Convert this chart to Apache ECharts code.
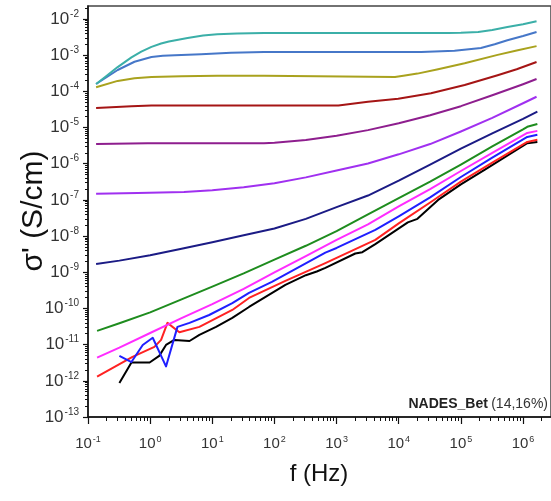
<!DOCTYPE html>
<html>
<head>
<meta charset="utf-8">
<script src="https://cdn.jsdelivr.net/npm/echarts@6/dist/echarts.min.js"></script>
<style>
  html, body { margin: 0; padding: 0; background: #ffffff; }
  #chart { width: 551px; height: 501px; }
</style>
</head>
<body>
<div id="chart"></div>
<script>
// Decade exponents used for the labelled ticks
const freqExponents = [-1, 0, 1, 2, 3, 4, 5, 6];
const condExponents = [-13, -12, -11, -10, -9, -8, -7, -6, -5, -4, -3, -2];

// Real conductivity spectra, pairs of [f (Hz), sigma' (S/cm)]
const curveTeal = [[0.135, 1.6e-4], [0.20, 2.7e-4], [0.30, 4.7e-4], [0.50, 8.7e-4], [0.72, 1.25e-3], [1.05, 1.7e-3], [1.5, 2.1e-3], [2.0, 2.4e-3], [4.0, 3.0e-3], [7.1, 3.5e-3], [12, 3.8e-3], [25, 4.0e-3], [68, 4.1e-3], [9.8e3, 4.1e-3], [6.2e4, 4.1e-3], [1.0e5, 4.15e-3], [1.9e5, 4.4e-3], [3.2e5, 5.0e-3], [5.6e5, 6.0e-3], [1.0e6, 7.2e-3], [1.65e6, 8.7e-3]];
const curveSteel = [[0.135, 1.6e-4], [0.30, 3.9e-4], [0.56, 6.6e-4], [1.05, 8.9e-4], [1.6, 9.6e-4], [2.5, 1.0e-3], [6.6, 1.07e-3], [20, 1.17e-3], [68, 1.23e-3], [2.3e4, 1.23e-3], [7.9e4, 1.32e-3], [2.1e5, 1.58e-3], [3.5e5, 2.0e-3], [5.6e5, 2.6e-3], [1.0e6, 3.4e-3], [1.65e6, 4.4e-3]];
const curveOlive = [[0.135, 1.3e-4], [0.30, 1.95e-4], [0.56, 2.3e-4], [1.05, 2.5e-4], [3.2, 2.6e-4], [12, 2.7e-4], [68, 2.7e-4], [8.7e3, 2.5e-4], [1.26e4, 2.75e-4], [2.0e4, 3.1e-4], [4.3e4, 4.1e-4], [1.15e5, 6.0e-4], [3.9e5, 1.02e-3], [7.9e5, 1.35e-3], [1.65e6, 1.78e-3]];
const curveDarkRed = [[0.135, 3.5e-5], [0.5, 3.9e-5], [1.05, 4.1e-5], [68, 4.1e-5], [1.07e3, 4.1e-5], [3.2e3, 5.2e-5], [9.8e3, 6.3e-5], [3.3e4, 8.9e-5], [1.15e5, 1.5e-4], [3.9e5, 2.8e-4], [7.9e5, 4.1e-4], [1.65e6, 6.5e-4]];
const curvePlum = [[0.135, 3.5e-6], [0.91, 3.7e-6], [68, 3.7e-6], [100, 3.8e-6], [320, 4.5e-6], [1.0e3, 5.9e-6], [3.2e3, 8.5e-6], [1.0e4, 1.32e-5], [3.2e4, 2.2e-5], [1.0e5, 3.9e-5], [3.2e5, 7.8e-5], [1.0e6, 1.58e-4], [1.65e6, 2.2e-4]];
const curveViolet = [[0.135, 1.48e-7], [0.63, 1.55e-7], [3.5, 1.66e-7], [10, 1.86e-7], [32, 2.24e-7], [100, 2.9e-7], [320, 4.2e-7], [1.0e3, 6.5e-7], [3.2e3, 1.02e-6], [1.0e4, 1.82e-6], [3.2e4, 3.5e-6], [1.0e5, 7.8e-6], [3.2e5, 1.86e-5], [1.0e6, 4.7e-5], [1.65e6, 7.1e-5]];
const curveNavy = [[0.135, 1.7e-9], [0.32, 2.1e-9], [1.0, 2.95e-9], [3.2, 4.5e-9], [10, 6.8e-9], [32, 1.05e-8], [100, 1.62e-8], [320, 3.0e-8], [1.0e3, 6.3e-8], [3.2e3, 1.32e-7], [1.0e4, 3.4e-7], [3.2e4, 9.5e-7], [1.0e5, 2.6e-6], [3.2e5, 6.9e-6], [1.0e6, 1.74e-5], [1.7e6, 2.75e-5]];
const curveGreen = [[0.14, 2.4e-11], [0.32, 3.9e-11], [1.0, 7.8e-11], [3.2, 1.78e-10], [10, 4.0e-10], [32, 9.3e-10], [100, 2.24e-9], [320, 5.4e-9], [1.0e3, 1.38e-8], [3.2e3, 4.0e-8], [1.0e4, 1.12e-7], [3.2e4, 3.2e-7], [1.0e5, 9.5e-7], [3.2e5, 3.0e-6], [1.0e6, 8.9e-6], [1.17e6, 1.05e-5], [1.7e6, 1.26e-5]];
const curveMagenta = [[0.14, 4.4e-12], [0.32, 8.3e-12], [1.0, 2.1e-11], [3.2, 5.4e-11], [10, 1.32e-10], [32, 3.5e-10], [100, 1.0e-9], [320, 2.8e-9], [1.0e3, 7.9e-9], [3.2e3, 2.1e-8], [1.0e4, 6.6e-8], [3.2e4, 2.0e-7], [1.0e5, 6.3e-7], [3.2e5, 2.0e-6], [1.17e6, 7.1e-6], [1.7e6, 8.1e-6]];
const curveRed = [[0.14, 1.3e-12], [0.52, 4.6e-12], [1.17, 8.7e-12], [1.5, 1.35e-11], [1.9, 4.0e-11], [2.95, 2.2e-11], [6.2, 3.1e-11], [21, 9.1e-11], [39, 1.95e-10], [150, 5.8e-10], [660, 1.8e-9], [1.0e3, 2.5e-9], [4.2e3, 7.9e-9], [1.0e4, 2.24e-8], [3.2e4, 8.5e-8], [1.0e5, 3.2e-7], [3.2e5, 1.07e-6], [1.17e6, 4.0e-6], [1.7e6, 4.6e-6]];
const curveBlue = [[0.32, 4.9e-12], [0.50, 3.3e-12], [0.76, 9.8e-12], [1.1, 1.55e-11], [1.8, 2.5e-12], [2.75, 3.1e-11], [4.3, 4.0e-11], [8.9, 6.6e-11], [21, 1.4e-10], [39, 2.7e-10], [91, 5.4e-10], [660, 3.5e-9], [1.0e3, 4.7e-9], [4.2e3, 1.48e-8], [1.0e4, 3.5e-8], [3.2e4, 1.17e-7], [1.0e5, 4.3e-7], [3.2e5, 1.48e-6], [1.17e6, 5.5e-6], [1.7e6, 6.3e-6]];
const curveBlack = [[0.32, 8.7e-13], [0.50, 3.2e-12], [0.98, 3.2e-12], [1.4, 4.9e-12], [1.8, 9.8e-12], [2.45, 1.35e-11], [4.3, 1.26e-11], [6.2, 1.86e-11], [11.5, 3.1e-11], [21, 5.5e-11], [39, 1.1e-10], [150, 4.5e-10], [320, 8.3e-10], [480, 1.05e-9], [660, 1.32e-9], [2.0e3, 3.3e-9], [2.6e3, 3.6e-9], [4.2e3, 6.0e-9], [1.4e4, 2.4e-8], [2.0e4, 3.0e-8], [4.3e4, 1.0e-7], [1.0e5, 2.7e-7], [2.4e5, 6.8e-7], [1.17e6, 3.7e-6], [1.7e6, 4.0e-6]];

const X_MIN = Number('1e-1');
const X_MAX = Math.pow(10, 6.45);
const Y_MIN = Number('1e-13');
const Y_MAX = Math.pow(10, -1.64);

const decade = e => Number('1e' + e);
const xMajor = freqExponents.map(decade);
const yMajor = condExponents.map(decade);
// minor ticks at 2..9 x 10^n
function minorTicks(lo, hi, vmin, vmax) {
  const out = [];
  for (let e = lo; e <= hi; e++) {
    for (let k = 2; k <= 9; k++) {
      const v = Number(k + 'e' + e);
      if (v > vmin && v < vmax) out.push(v);
    }
  }
  return out;
}
const xMinor = minorTicks(-1, 6, X_MIN, X_MAX);
const yMinor = minorTicks(-13, -2, Y_MIN, Y_MAX);

const powLabel = v => '{b|10}{s|' + Math.round(Math.log10(v)) + '}';
const FONT = '"Liberation Sans", Arial, sans-serif';

const chart = echarts.init(document.getElementById('chart'), null, { renderer: 'canvas' });

function lineSeries(data, color) {
  return {
    type: 'line',
    data: data,
    showSymbol: false,
    symbol: 'none',
    smooth: false,
    lineStyle: { color: color, width: 2, join: 'round' },
    itemStyle: { color: color },
    silent: true,
    animation: false
  };
}

chart.setOption({
  animation: false,
  backgroundColor: '#ffffff',
  grid: {
    left: 88, top: 6, right: -3, bottom: 84,
    show: true, borderColor: '#444444', borderWidth: 1.5, backgroundColor: 'transparent'
  },
  xAxis: [
    {
      type: 'log', logBase: 10, min: X_MIN, max: X_MAX, position: 'bottom',
      axisLine: { show: true, onZero: false, lineStyle: { color: '#111', width: 1.5 } },
      axisTick: { show: true, inside: false, length: 7, customValues: xMajor, lineStyle: { color: '#111', width: 1.2 } },
      minorTick: { show: false },
      splitLine: { show: false },
      axisLabel: {
        customValues: xMajor, margin: 18, formatter: powLabel, color: '#333',
        rich: {
          b: { fontSize: 15, fontFamily: FONT, color: '#333' },
          s: { fontSize: 9, fontFamily: FONT, color: '#333', verticalAlign: 'top', padding: [0, 0, 9, 1] }
        }
      }
    },
    {
      type: 'log', logBase: 10, min: X_MIN, max: X_MAX, position: 'bottom',
      axisLine: { show: false },
      axisTick: { show: true, inside: false, length: 4, customValues: xMinor, lineStyle: { color: '#111', width: 1 } },
      axisLabel: { show: false },
      splitLine: { show: false }
    }
  ],
  yAxis: [
    {
      type: 'log', logBase: 10, min: Y_MIN, max: Y_MAX, position: 'left',
      axisLine: { show: true, onZero: false, lineStyle: { color: '#111', width: 1.5 } },
      axisTick: { show: true, inside: false, length: 5, customValues: yMajor, lineStyle: { color: '#111', width: 1.2 } },
      minorTick: { show: false },
      splitLine: { show: false },
      axisLabel: {
        customValues: yMajor, margin: 9, formatter: powLabel, color: '#333',
        rich: {
          b: { fontSize: 17, fontFamily: FONT, color: '#333' },
          s: { fontSize: 10, fontFamily: FONT, color: '#333', verticalAlign: 'top', padding: [0, 0, 10, 1] }
        }
      }
    },
    {
      type: 'log', logBase: 10, min: Y_MIN, max: Y_MAX, position: 'left',
      axisLine: { show: false },
      axisTick: { show: true, inside: false, length: 3, customValues: yMinor, lineStyle: { color: '#111', width: 1 } },
      axisLabel: { show: false },
      splitLine: { show: false }
    }
  ],
  series: [
    lineSeries(curveBlack, '#000000'),
    lineSeries(curveRed, '#ff2222'),
    lineSeries(curveBlue, '#1f1fff'),
    lineSeries(curveMagenta, '#ff2cff'),
    lineSeries(curveGreen, '#1e8c1e'),
    lineSeries(curveNavy, '#1b1b85'),
    lineSeries(curveViolet, '#a030f0'),
    lineSeries(curvePlum, '#8e1e8e'),
    lineSeries(curveDarkRed, '#a51515'),
    lineSeries(curveOlive, '#a9a21e'),
    lineSeries(curveSteel, '#4677c8'),
    lineSeries(curveTeal, '#3bafa8')
  ],
  graphic: [
    {
      type: 'text', x: 319, y: 474,
      style: { text: 'f (Hz)', font: '24px ' + FONT, fill: '#111', align: 'center', verticalAlign: 'middle' }
    },
    {
      type: 'text', x: 34, y: 211, rotation: Math.PI / 2,
      style: { text: "σ' (S/cm)", font: '30px ' + FONT, fill: '#111', align: 'center', verticalAlign: 'middle' }
    },
    {
      type: 'text', x: 548, y: 404,
      style: {
        text: '{b|NADES_Bet} {n|(14,16%)}',
        align: 'right', verticalAlign: 'middle',
        rich: {
          b: { fontSize: 14, fontWeight: 'bold', fontFamily: FONT, fill: '#222', color: '#222' },
          n: { fontSize: 14, fontFamily: FONT, fill: '#333', color: '#333' }
        }
      }
    }
  ]
});
</script>
</body>
</html>
